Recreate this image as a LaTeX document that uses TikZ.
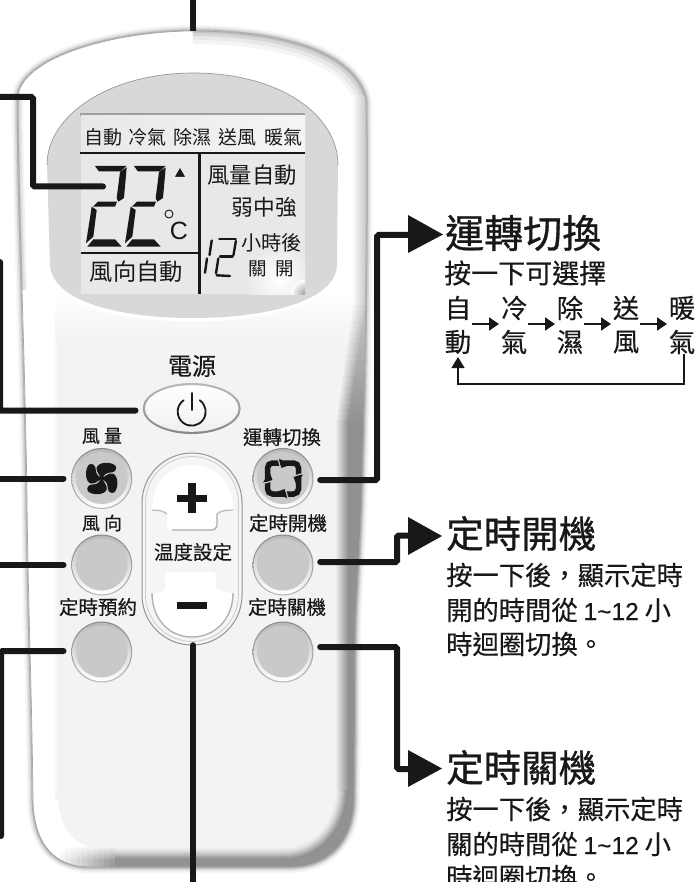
\documentclass[tikz,border=0pt]{standalone}
\usepackage{fontspec}
\setmainfont{Liberation Sans}
\newfontfamily\cjk{Noto Sans CJK TC}
\newfontfamily\cjkl[FakeBold=0.2]{Noto Sans CJK TC}
\newfontfamily\cjkm[FakeBold=0.4]{Noto Sans CJK TC}
\newfontfamily\cjkh[FakeBold=0.8]{Noto Sans CJK TC}
\newfontfamily\latm[FakeBold=0.3]{Liberation Sans}
\newcommand{\fsz}[1]{\fontsize{#1}{#1}\selectfont}
\newcommand{\rng}{{\latm\fsz{24.5}1\char"007E 12}}
\usetikzlibrary{arrows.meta,calc,shapes.geometric}
\definecolor{ink}{HTML}{1A1718}
\definecolor{face}{HTML}{F3F3F3}
\definecolor{panel}{HTML}{D8D8D8}
\definecolor{btn}{HTML}{C9C9C9}
\definecolor{band}{HTML}{929292}
\tikzset{
  conn/.style={draw=ink,line width=6pt,line cap=round,line join=miter,rounded corners=1.5pt},
  txt/.style={inner sep=0pt,text=ink,font=\cjk},
  lbl/.style={inner sep=0pt,text=ink,font=\cjkl\fsz{19.5}},
  bodytxt/.style={inner sep=0pt,text=ink,font=\cjkm\fsz{26.3},anchor=west},
  headtxt/.style={inner sep=0pt,text=ink,font=\cjkh\fsz{37.5},anchor=west},
  headtip/.style={fill=ink,draw=none},
  seg/.style={fill=ink,draw=none},
  thinseg/.style={draw=ink,line width=2.4pt,line cap=round},
  thinflow/.style={draw=ink,line width=2pt,-{Triangle[length=10pt,width=13pt]}},
  thinreturn/.style={draw=ink,line width=1.3pt},
  roundbtn/.style={circle,minimum size=60pt,inner sep=0pt},
}
\newcommand{\btnface}[2]{%
  \shade[top color=gray!90,bottom color=gray!55] (#1,#2) circle (30.5);
  \shade[top color=gray!55,bottom color=white] (#1,#2) circle (29.3);
  \fill[btn] (#1,#2-0.5) circle (26);
}
\newcommand{\digittwo}[2]{%
  \begin{scope}[shift={(#1,#2)}]
    \fill[seg] (95,166)--(126.5,166)--(120.5,171.5)--(99,171.5)--cycle;
    \fill[seg] (126.7,167.3)--(124,198)--(118.3,201.7)--(116.7,198)--(120,172)--cycle;
    \fill[seg] (98,201.7)--(117,201.7)--(115,206.7)--(93,206.7)--cycle;
    \fill[seg] (91.7,206.7)--(96.7,210)--(93.3,236.7)--(86,243.3)--cycle;
    \fill[seg] (93.3,239.3)--(115,239.3)--(121.7,246.7)--(87.3,246.7)--cycle;
  \end{scope}
}
\newcommand{\coolarrow}[1]{%
  \begin{scope}[rotate around={#1:(283,478.5)}]
    \draw[btn,line width=1.2pt] (281,469)--(277.5,457);
    \fill[ink] (279,458.5)--(289.5,465)--(281.5,468)--cycle;
  \end{scope}
}
\begin{document}
\begin{tikzpicture}[x=1pt,y=-1pt]
\useasboundingbox (0,0) rectangle (697,882);
\fill[white] (0,0) rectangle (697,882);
% soft shadow of the body
\def\bodypath{(18,95) .. controls (25,55) and (120,31) .. (193,31) .. controls (275,31) and (355,50) .. (366,100) .. controls (367,200) and (366,350) .. (362,480) .. controls (360,560) and (355,600) .. (355,650) .. controls (355,700) and (355,750) .. (354,800) .. controls (353,845) and (325,867) .. (290,867) -- (90,867) .. controls (55,867) and (34,845) .. (33,800) .. controls (32,700) and (28,600) .. (27,500) .. controls (25,350) and (18,200) .. (18,95) -- cycle}
\foreach \w/\g in {12/3,9/8,6/16,3/30}{
  \draw[line width=\w pt,color=black!\g] \bodypath;
}
\fill[white] \bodypath;
\begin{scope}
  \clip \bodypath;
  % rim shade, top right
  \foreach \w/\g in {26/4,18/9,10/16,4/24}{
    \draw[line width=\w pt,color=black!\g] (193,31) .. controls (275,31) and (355,50) .. (366,100);
  }
  % rim shade, left
  \foreach \w/\g in {10/5,6/12,2/24}{
    \draw[line width=\w pt,color=black!\g] (18,95) .. controls (18,200) and (25,350) .. (27,500) .. controls (28,600) and (32,700) .. (33,800);
  }
  % face area, fading in from the white top
  \fill[face] (55,340) rectangle (341,800);
  \shade[top color=white,bottom color=face] (55,290) rectangle (341,341);
  % right band, growing downward
  \foreach \i in {0,...,128}{
    \pgfmathsetmacro{\ya}{96+\i*5.5}
    \pgfmathsetmacro{\yb}{\ya+6}
    \pgfmathsetmacro{\tt}{max(0,min(1,(\ya-300)/120))}
    \pgfmathsetmacro{\xa}{352-17*\tt}
    \pgfmathsetmacro{\xb}{366-18*\tt}
    \pgfmathsetmacro{\cc}{22+21*\tt}
    \pgfmathsetmacro{\lc}{4.7*max(0,min(1,(\ya-290)/50))}
    \fill[black!\lc] (341,\ya) rectangle (\xa,\yb);
    \shade[left color=black!\lc,right color=black!\cc] (\xa,\ya) rectangle (\xb,\yb);
    \fill[black!\cc] (\xb-0.2,\ya) rectangle (372,\yb);
  }
  % bottom band
  \fill[band] (115,856) rectangle (372,880);
  \fill[band] (250,798) rectangle (372,880);
  \foreach \i in {0,...,10}{
    \pgfmathsetmacro{\xa}{60+\i*5.5}
    \pgfmathsetmacro{\cc}{4.7+\i*3.8}
    \pgfmathsetmacro{\tc}{\i*0.47}
    \shade[top color=black!\tc,bottom color=black!\cc] (\xa,846) rectangle (\xa+6,860);
    \fill[black!\cc] (\xa,859.8) rectangle (\xa+6,880);
  }
  % soft edge of the face, bottom right
  \foreach \w/\g in {24/43,20/36,16/28,12/20,8/13,4/8}{
    \draw[line width=\w pt,color=black!\g] (336,790) .. controls (335,825) and (312,848) .. (285,848) -- (115,848);
  }
  % face bottom
  \fill[face] (57,775) -- (336,775) -- (336,790) .. controls (335,825) and (312,848) .. (285,848) -- (100,848) .. controls (72,848) and (58,825) .. (57,790) -- cycle;
  \fill[white] (20,290) rectangle (55,800);
  \shade[left color=white,right color=face] (52,340) rectangle (58,790);
\end{scope}
\draw[gray!70,line width=0.7pt] \bodypath;
% LCD panel
\def\panelpath{(47,165) .. controls (47,115) and (110,73) .. (193,73) .. controls (280,73) and (338,115) .. (338,165) -- (337,265) .. controls (336,300) and (270,318) .. (193,318) .. controls (115,318) and (52,300) .. (50,265) -- cycle}
\draw[white,line width=7pt] \panelpath;
\fill[panel] \panelpath;
\draw[gray!80,line width=0.7pt] (47,165) .. controls (47,115) and (110,73) .. (193,73) .. controls (280,73) and (338,115) .. (338,165);
\fill[gray!75] (80,113) rectangle (305,116);
\begin{scope}
  \clip (81,116) rectangle (305,294);
  \fill[black!9] (81,116) rectangle (305,294);
  \shade[left color=black!9,right color=black!4] (81,116) rectangle (305,152);
  \shade[inner color=white,outer color=black!9] (279,279) circle (34);
  \shade[inner color=gray!75,outer color=white] (305,294) circle (14);
\end{scope}
% LCD rules
\coordinate (ruleTL) at (80,153);
\coordinate (ruleTR) at (305,153);
\coordinate (ruleVT) at (199.5,153);
\coordinate (ruleVB) at (199.5,294);
\coordinate (ruleHL) at (81,253);
\draw[ink,line width=2.4pt] (ruleTL)--(ruleTR);
\draw[ink,line width=2.4pt] (ruleVT)--(ruleVB);
\draw[ink,line width=2.4pt] (ruleHL)--(ruleVT|-ruleHL);
% LCD text
\node[txt,font=\cjk\fsz{19}] (lcdA) at (103,137.5) {自動};
\node[txt,font=\cjk\fsz{19}] (lcdB) at (147,137.5) {冷氣};
\node[txt,font=\cjk\fsz{19}] (lcdC) at (192.5,137.5) {除濕};
\node[txt,font=\cjk\fsz{19}] (lcdD) at (237.5,137.5) {送風};
\node[txt,font=\cjk\fsz{19}] (lcdE) at (283.5,137.5) {暖氣};
\digittwo{0}{0}
\digittwo{39}{0}
\node[txt,font=\cjk\fsz{11}] (lcdUp) at (180,173) {▲};
\draw[ink,line width=0.9pt] (169,214) circle (4);
\node[txt,font=\fsz{25}] (lcdC2) at (179,231) {C};
\node[txt,font=\cjk\fsz{22.3},anchor=east] (lcdF) at (297,175.5) {風量自動};
\node[txt,font=\cjk\fsz{21.7},anchor=east] (lcdG) at (297,207) {弱中強};
\node[txt,font=\cjk\fsz{20.2},anchor=east] (lcdH) at (302,243) {小時後};
\node[txt,font=\cjk\fsz{18.5}] (lcdI) at (258,269) {關};
\node[txt,font=\cjk\fsz{18.5}] (lcdJ) at (285,269) {開};
\node[txt,font=\cjk\fsz{23.3}] (lcdK) at (136.5,272) {風向自動};
\draw[thinseg] (211.7,240.5)--(209.5,255);
\draw[thinseg] (207,258.5)--(205,272.7);
\draw[thinseg] (219.3,239)--(235.7,239);
\draw[thinseg] (235.9,241)--(233.5,255);
\draw[thinseg] (220,256.7)--(232.7,256.7);
\draw[thinseg] (218.3,258.5)--(216,273.3);
\draw[thinseg] (216.7,275.3)--(230,276);
% power
\node[ellipse,minimum width=98pt,minimum height=51pt,inner sep=0pt] (pwr) at (191.7,408.5) {};
\shade[top color=gray!55,bottom color=gray!95] (191.7,408.5) ellipse (49 and 25.5);
\shade[top color=white,bottom color=black!6] (191.7,408.5) ellipse (46.8 and 23.3);
\node[txt,font=\cjkm\fsz{24}] (pwrLbl) at (192,366) {電源};
\draw[ink,line width=1.8pt,line cap=round] (199.7,400.2) arc[start angle=-55,end angle=235,radius=14];
\draw[ink,line width=1.8pt,line cap=round] (191.7,393)--(191.7,410);
% round buttons
\btnface{101.7}{478.5}\btnface{101.7}{565}\btnface{101.7}{652}
\btnface{283}{478.5}\btnface{283}{565}\btnface{283}{652}
\node[roundbtn] (fan) at (101.7,478.5) {};
\node[roundbtn] (wind) at (101.7,565) {};
\node[roundbtn] (plan) at (101.7,652) {};
\node[roundbtn] (mode) at (283,478.5) {};
\node[roundbtn] (ton) at (283,565) {};
\node[roundbtn] (toff) at (283,652) {};
\foreach \a in {0,90,180,270}{
  \begin{scope}[shift={(101.7,478.5)},rotate=\a]
    \fill[ink] (0,1) .. controls (-2,-4) and (-6,-7) .. (-5,-11) .. controls (-3,-17) and (10,-17) .. (14,-12.5) .. controls (15.5,-9) and (13,-6) .. (9,-6) .. controls (5,-6) and (2,-4) .. (1,0) -- cycle;
  \end{scope}
}
\draw[ink,line width=5.5pt,rounded corners=5pt] (267.5,463) rectangle (298.5,494);
\coolarrow{0}\coolarrow{90}\coolarrow{180}\coolarrow{270}
\node[lbl,font=\cjkl\fsz{18}] (l1) at (102,436) {風 量};
\node[lbl,font=\cjkl\fsz{18}] (l2) at (102,523) {風 向};
\node[lbl] (l3) at (98,607) {定時預約};
\node[lbl] (l4) at (282,437) {運轉切換};
\node[lbl] (l5) at (288,523) {定時開機};
\node[lbl] (l6) at (287,607) {定時關機};
% temperature capsule
\node[minimum width=100pt,minimum height=192pt,inner sep=0pt] (temp) at (192,549) {};
\draw[gray!85,line width=1pt,fill=white!96!black] (142,503) arc[start angle=180,end angle=360,radius=50] -- (242,595) arc[start angle=0,end angle=180,radius=50] -- cycle;
\draw[gray!40,line width=0.8pt] (145.5,503) arc[start angle=180,end angle=360,radius=46.5] -- (238.5,595) arc[start angle=0,end angle=180,radius=46.5] -- cycle;
\fill[white] (152,510) .. controls (152,480) and (172,465) .. (192,465) .. controls (214,465) and (233,480) .. (233,510) .. controls (226,510) and (220,511) .. (217,514) -- (217,526) .. controls (216,529) and (214,530) .. (212,530) -- (172,530) .. controls (169,530) and (167,528) .. (167,525) -- (167,514) .. controls (164,511) and (158,510) .. (152,510) -- cycle;
\draw[gray!65,line width=1.4pt] (217,514) -- (217,526) .. controls (216,529) and (214,530) .. (212,530) -- (172,530);
\draw[gray!55,line width=1.2pt] (233,510) .. controls (226,510) and (220,511) .. (217,514);
\draw[gray!55,line width=1.2pt] (152,510) .. controls (158,510) and (164,511) .. (167,514);
\fill[white] (152,593) .. controls (158,593) and (163,592) .. (165,589) -- (165,577) .. controls (165,574) and (167,572) .. (170,572) -- (212,572) .. controls (215,572) and (216,574) .. (216,577) -- (216,587) .. controls (220,591) and (226,593) .. (233,593) .. controls (233,620) and (214,637) .. (192,637) .. controls (170,637) and (152,620) .. (152,593) -- cycle;
\draw[gray!60,line width=1.4pt] (152,593) .. controls (152,620) and (170,637) .. (192,637) .. controls (214,637) and (233,620) .. (233,593);
\fill[ink] (188,483) rectangle (196,513);
\fill[ink] (177,494.5) rectangle (207,502);
\fill[ink] (177,601.5) rectangle (207,608.5);
\node[lbl] (tempLbl) at (193,552) {温度設定};
% connectors
\coordinate (topEnd) at (193,0);
\coordinate (topBody) at (193,31);
\draw[conn,line cap=butt,line width=6.5pt] (topEnd)--(topBody);
\coordinate (lcdL) at (0,97);
\coordinate (lcdM) at (33,97);
\coordinate (lcdN) at (33,186.5);
\coordinate (lcdT) at (103,186.5);
\draw[conn] (lcdL)--(lcdM)--(lcdN)--(lcdT);
\coordinate (pwrA) at (0,262);
\coordinate (pwrB) at (0,410.5);
\draw[conn,shorten >=7pt] (pwrA)--(pwrB)--(pwr.west|-pwrB);
\coordinate (fanL) at (-5,478.5);
\coordinate (windL) at (-5,565);
\draw[conn,shorten >=8pt] (fanL)--(fan.west);
\draw[conn,shorten >=8pt] (windL)--(wind.west);
\coordinate (planA) at (1,651);
\coordinate (planB) at (1,836);
\draw[conn,shorten >=8pt] (planB)--(planA)--(plan.west|-planA);
\coordinate (tempB) at (193,885);
\draw[conn] (tempB)--(tempB|-temp.south);
\coordinate (modeV) at (377,480);
\coordinate (modeH) at (377,235);
\coordinate (modeT) at (412,235);
\draw[conn,shorten <=7pt] (mode.east|-modeV)--(modeV)--(modeH)--(modeT);
\fill[headtip] (408,215)--(443,234.5)--(408,253)--cycle;
\coordinate (tonV) at (397,562);
\coordinate (tonH) at (397,535.5);
\coordinate (tonT) at (412,535.5);
\draw[conn,shorten <=7pt] (ton.east|-tonV)--(tonV)--(tonH)--(tonT);
\fill[headtip] (408,517)--(442,536)--(408,555)--cycle;
\coordinate (toffV) at (397,647);
\coordinate (toffH) at (397,769);
\coordinate (toffT) at (412,769);
\draw[conn,shorten <=7pt] (toff.east|-toffV)--(toffV)--(toffH)--(toffT);
\fill[headtip] (408,750)--(442,768.5)--(408,787)--cycle;
% right column
\node[headtxt,font=\cjkh\fsz{39}] (hA) at (445,233) {運轉切換};
\node[bodytxt,font=\cjkm\fsz{27}] (hA1) at (444,273) {按一下可選擇};
\node[bodytxt,anchor=center] (mA) at (458,308) {自};
\node[bodytxt,anchor=center] (mA2) at (458,342) {動};
\node[bodytxt,anchor=center] (mB) at (514,308) {冷};
\node[bodytxt,anchor=center] (mB2) at (514,342) {氣};
\node[bodytxt,anchor=center] (mC) at (570,308) {除};
\node[bodytxt,anchor=center] (mC2) at (570,342) {濕};
\node[bodytxt,anchor=center] (mD) at (626,308) {送};
\node[bodytxt,anchor=center] (mD2) at (626,342) {風};
\node[bodytxt,anchor=center] (mE) at (682,308) {暖};
\node[bodytxt,anchor=center] (mE2) at (682,342) {氣};
\coordinate (a1) at (472,324);\coordinate (a2) at (499,324);
\coordinate (b1) at (528,324);\coordinate (b2) at (555,324);
\coordinate (c1) at (584,324);\coordinate (c2) at (611,324);
\coordinate (d1) at (640,324);\coordinate (d2) at (667,324);
\draw[thinflow] (a1)--(a2);\draw[thinflow] (b1)--(b2);\draw[thinflow] (c1)--(c2);\draw[thinflow] (d1)--(d2);
\coordinate (r1) at (684,354);\coordinate (r2) at (684,384);\coordinate (r3) at (458,384);\coordinate (r4) at (458,357);
\draw[thinreturn,-{Triangle[length=11pt,width=13pt]}] (r1)--(r2)--(r3)--(r4);
\node[headtxt] (hB) at (446,533.5) {定時開機};
\node[bodytxt] (hB1) at (446,575) {按一下後，顯示定時};
\node[bodytxt] (hB2) at (446,610) {開的時間從 \rng{} 小};
\node[bodytxt] (hB3) at (446,644) {時迴圈切換。};
\node[headtxt] (hC) at (446,767.5) {定時關機};
\node[bodytxt] (hC1) at (446,809) {按一下後，顯示定時};
\node[bodytxt] (hC2) at (446,844) {關的時間從 \rng{} 小};
\node[bodytxt] (hC3) at (446,877) {時迴圈切換。};
\end{tikzpicture}
\end{document}
